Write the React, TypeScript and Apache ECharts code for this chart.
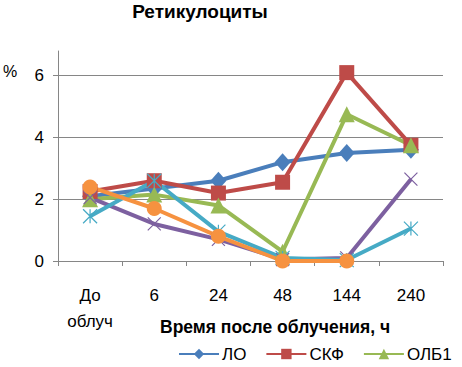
import React, { useEffect, useRef } from "react";
import * as echarts from "echarts";

const categories = ["До\nоблуч", "6", "24", "48", "144", "240"];
const yTicks = [0, 2, 4, 6];
const gridValues = [2, 4, 6];
const seriesNames = ["ЛО", "СКФ", "ОЛБ1", "Ряд4", "Ряд5", "Ряд6"];
const lo = [2.1, 2.35, 2.6, 3.2, 3.5, 3.6];
const skf = [2.25, 2.6, 2.2, 2.55, 6.1, 3.75];
const olb1 = [2.0, 2.15, 1.8, 0.3, 4.75, 3.75];
const row4 = [2.05, 1.2, 0.7, 0.05, 0.1, 2.65];
const row5 = [1.45, 2.6, 0.95, 0.1, 0.03, 1.05];
const row6 = [2.4, 1.7, 0.8, 0, 0, null];
const legendNames = ["ЛО", "СКФ", "ОЛБ1"];

const FONT = "Liberation Sans";

export default function App() {
  const ref = useRef<HTMLDivElement>(null);
  useEffect(() => {
    if (!ref.current) return;
    const chart = echarts.init(ref.current, null, { renderer: "svg" });
    const mk = (name: string, data: any[], color: string, symbol: string, symbolSize: any, extra: any = {}) => ({
      name,
      type: "line",
      data,
      symbol,
      symbolSize,
      connectNulls: false,
      lineStyle: { color, width: 4 },
      itemStyle: { color, ...(extra.itemStyle || {}) },
      z: extra.z || 2,
      markLine: extra.markLine,
    });
    chart.setOption({
      animation: false,
      backgroundColor: "#fff",
      title: {
        text: "Ретикулоциты",
        left: 195,
        textAlign: "center",
        top: -3,
        textStyle: { fontFamily: FONT, fontSize: 19, fontWeight: "bold", color: "#000" },
      },
      graphic: [
        { type: "text", left: 3, top: 63, style: { text: "%", fontFamily: FONT, fontSize: 16, fill: "#000" } },
        {
          type: "text",
          left: 160,
          top: 318,
          style: { text: "Время после облучения, ч", fontFamily: FONT, fontSize: 17.5, fontWeight: "bold", fill: "#000" },
        },
      ],
      legend: {
        data: legendNames,
        left: 178,
        top: 345,
        padding: 0,
        itemWidth: 40,
        itemHeight: 13,
        itemGap: 19,
        textStyle: { fontFamily: FONT, fontSize: 17, lineHeight: 18, color: "#000", padding: [0, 0, 0, -2] },
      },
      grid: { left: 58, right: 19, top: 51, bottom: 106 },
      xAxis: {
        type: "category",
        data: categories,
        boundaryGap: true,
        axisLine: { lineStyle: { color: "#868686", width: 1 } },
        axisTick: { show: true, length: 5, lineStyle: { color: "#868686" } },
        axisLabel: {
          fontFamily: FONT,
          fontSize: 17,
          color: "#000",
          margin: 21,
          lineHeight: 26,
          interval: 0,
        },
      },
      yAxis: {
        type: "value",
        min: 0,
        max: 6.8,
        interval: 2,
        axisLine: { show: true, lineStyle: { color: "#868686", width: 1 } },
        axisTick: { show: true, length: 5, lineStyle: { color: "#868686" }, customValues: yTicks },
        axisLabel: {
          fontFamily: FONT,
          fontSize: 17,
          color: "#000",
          margin: 14,
          customValues: yTicks,
        },
        splitLine: { show: false },
      },
      series: [
        mk(seriesNames[0], lo, "#4A7EBB", "diamond", [16, 18], {
          markLine: {
            silent: true,
            symbol: "none",
            label: { show: false },
            lineStyle: { color: "#868686", width: 1, type: "solid" },
            data: gridValues.map((v) => ({ yAxis: v })),
            z: 0,
          },
        }),
        mk(seriesNames[1], skf, "#BE4B48", "rect", 15),
        mk(seriesNames[2], olb1, "#98B954", "triangle", 16),
        mk(seriesNames[3], row4, "#7D60A0", "path://M0,0L10,10M10,0L0,10", 13, {
          itemStyle: { borderColor: "#7D60A0", borderWidth: 1.2 },
        }),
        mk(seriesNames[4], row5, "#46AAC5", "path://M0,0L10,10M10,0L0,10M5,0L5,10", 14, {
          itemStyle: { borderColor: "#46AAC5", borderWidth: 1.2 },
        }),
        mk(seriesNames[5], row6, "#F69240", "circle", 15),
      ],
    });
    return () => chart.dispose();
  }, []);
  return <div ref={ref} style={{ width: 462, height: 367, position: "absolute", left: 0, top: 0 }} />;
}
